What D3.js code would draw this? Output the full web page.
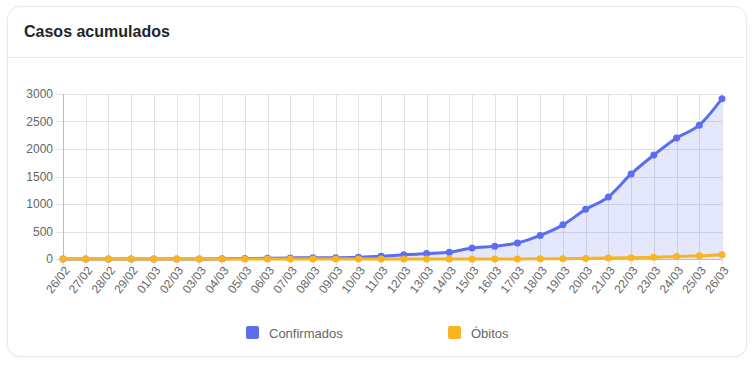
<!DOCTYPE html>
<html>
<head>
<meta charset="utf-8">
<script src="https://cdn.jsdelivr.net/npm/d3@7"></script>
<style>
  html, body { margin: 0; padding: 0; background: #fff; }
  body { width: 754px; height: 368px; overflow: hidden; font-family: "Liberation Sans", Arial, sans-serif; }
  #card {
    position: absolute; left: 7px; top: 6px; width: 738px; height: 349px;
    border: 1px solid #e6e8ea; border-radius: 13px; box-shadow: 0 1px 3px rgba(0,0,0,0.04);
    background: #fff;
  }
  #chart { position: absolute; left: 0; top: 0; }
</style>
</head>
<body>
<div id="card"></div>
<div id="chart"></div>
<script>
'use strict';

var dias = ['26/02','27/02','28/02','29/02','01/03','02/03','03/03','04/03','05/03','06/03',
  '07/03','08/03','09/03','10/03','11/03','12/03','13/03','14/03','15/03','16/03',
  '17/03','18/03','19/03','20/03','21/03','22/03','23/03','24/03','25/03','26/03'];
var confirmados = [1,1,1,2,2,2,2,3,8,13,19,25,25,34,52,77,98,121,200,234,291,428,621,904,1128,1546,1891,2201,2433,2915];
var obitos = [0,0,0,0,0,0,0,0,0,0,0,0,0,0,0,0,0,0,0,0,1,4,6,11,18,25,34,46,57,77];
var yTicks = [0,500,1000,1500,2000,2500,3000];

var W = 754, H = 368;
var margin = {top: 94, left: 63, right: 32, bottom: 109};
var width = W - margin.left - margin.right;
var height = H - margin.top - margin.bottom;

var svg = d3.select('#chart').append('svg')
  .attr('width', W).attr('height', H);

// header
svg.append('text')
  .attr('x', 24).attr('y', 37)
  .style('font-family', '"Liberation Sans", Arial, sans-serif')
  .style('font-size', '16px').style('font-weight', 'bold')
  .style('fill', '#212529')
  .text('Casos acumulados');
svg.append('line')
  .attr('x1', 8).attr('x2', 745).attr('y1', 57.5).attr('y2', 57.5)
  .style('stroke', '#ececec');

var g = svg.append('g')
  .attr('transform', 'translate(' + margin.left + ',' + margin.top + ')');

var x = d3.scalePoint().domain(dias).range([0, width]);
var y = d3.scaleLinear().domain([0, 3000]).range([height, 0]);

// grid
g.append('g').selectAll('line.h').data(yTicks).enter().append('line')
  .attr('x1', -7).attr('x2', width)
  .attr('y1', function(d){ return Math.round(y(d)) + 0.5; })
  .attr('y2', function(d){ return Math.round(y(d)) + 0.5; })
  .style('stroke', '#e2e2e2');
g.append('g').selectAll('line.v').data(dias).enter().append('line')
  .attr('x1', function(d){ return Math.round(x(d)) + 0.5; })
  .attr('x2', function(d){ return Math.round(x(d)) + 0.5; })
  .attr('y1', 0).attr('y2', height + 6)
  .style('stroke', '#e2e2e2');
g.append('line')
  .attr('x1', 0.5).attr('x2', 0.5).attr('y1', 0).attr('y2', height)
  .style('stroke', '#bdbdbd');
g.append('line')
  .attr('x1', 0).attr('x2', width).attr('y1', height + 0.5).attr('y2', height + 0.5)
  .style('stroke', '#bdbdbd');

// y labels
g.append('g').selectAll('text').data(yTicks).enter().append('text')
  .attr('x', -10).attr('y', function(d){ return y(d); })
  .attr('dy', '0.35em')
  .style('text-anchor', 'end')
  .style('font-family', '"Liberation Sans", Arial, sans-serif')
  .style('font-size', '12px').style('fill', '#666')
  .text(function(d){ return d; });

// x labels
g.append('g').selectAll('text').data(dias).enter().append('text')
  .attr('transform', function(d){ return 'translate(' + (x(d) + 4) + ',' + (height + 9) + ') rotate(-52)'; })
  .attr('dy', '0.35em')
  .style('text-anchor', 'end')
  .style('font-family', '"Liberation Sans", Arial, sans-serif')
  .style('font-size', '12px').style('fill', '#666')
  .text(function(d){ return d; });

var azul = '#5c6ef0', laranja = '#f8b423';

// area
var area = d3.area()
  .x(function(d, i){ return x(dias[i]); })
  .y0(height)
  .y1(function(d){ return y(d); })
  .curve(d3.curveMonotoneX);
g.append('path').datum(confirmados)
  .attr('d', area)
  .style('fill', 'rgba(92,110,240,0.16)');

var line = d3.line()
  .x(function(d, i){ return x(dias[i]); })
  .y(function(d){ return y(d); })
  .curve(d3.curveMonotoneX);

[[confirmados, azul], [obitos, laranja]].forEach(function(s){
  g.append('path').datum(s[0])
    .attr('d', line)
    .style('fill', 'none').style('stroke', s[1]).style('stroke-width', 3);
  g.append('g').selectAll('circle').data(s[0]).enter().append('circle')
    .attr('cx', function(d, i){ return x(dias[i]); })
    .attr('cy', function(d){ return y(d); })
    .attr('r', 3.5)
    .style('fill', s[1]);
});

// legend
var legenda = [{nome: 'Confirmados', cor: azul, x: 246}, {nome: 'Óbitos', cor: laranja, x: 448}];
var lg = svg.append('g').selectAll('g').data(legenda).enter().append('g')
  .attr('transform', function(d){ return 'translate(' + d.x + ',326)'; });
lg.append('rect')
  .attr('width', 13).attr('height', 13).attr('rx', 2)
  .style('fill', function(d){ return d.cor; });
lg.append('text')
  .attr('x', 23).attr('y', 7).attr('dy', '0.35em')
  .style('font-family', '"Liberation Sans", Arial, sans-serif')
  .style('font-size', '13px').style('fill', '#666')
  .text(function(d){ return d.nome; });
</script>
</body>
</html>
